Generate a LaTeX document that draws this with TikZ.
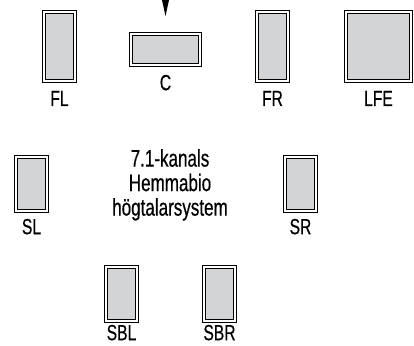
\documentclass[tikz,border=0pt]{standalone}
\usepackage{fontspec}
\setmainfont{Liberation Sans}[FakeStretch=0.71, FakeBold=0.5]
\usepackage{tikz}

\definecolor{boxgray}{HTML}{D3D4D6}

\begin{document}
\begin{tikzpicture}[x=1pt, y=-1pt,
    speaker/.style={draw=black, line width=0.9pt, double=white, double distance=1.8pt,
                    fill=boxgray, inner sep=0pt},
    every label/.style={inner sep=0pt, font=\fontsize{22}{24}\selectfont}]

\useasboundingbox (0,0) rectangle (414,345);

\def\t{3.6};
\foreach \spk/\x/\y/\w/\h/\d in {FL/59.5/46.5/35/73/9, C/165.5/49.5/73/35/9,
       FR/272.5/46.5/35/73/9, LFE/378.5/46.5/69/73/9,
       SL/31.5/184/35/58/7, SR/300.5/184/35/58/7,
       SBL/121.5/294/35/58/3, SBR/219.5/294/35/58/3}{
       \node[speaker, minimum width=\w pt-\t pt, minimum height=\h pt-\t pt,
             label={[name=\spk-label, label distance=\d pt]below:\spk}] (\spk) at (\x, \y) {};
}

% pointer to the centre speaker
\fill[black] (162, 0) -- (169, 0) -- (165.5, 16) -- cycle;

\node[anchor=north, inner sep=0pt, align=center, font=\fontsize{24}{24.5}\selectfont]
      (title) at (170, 149) {7.1-kanals\\Hemmabio\\högtalarsystem};

\end{tikzpicture}
\end{document}
